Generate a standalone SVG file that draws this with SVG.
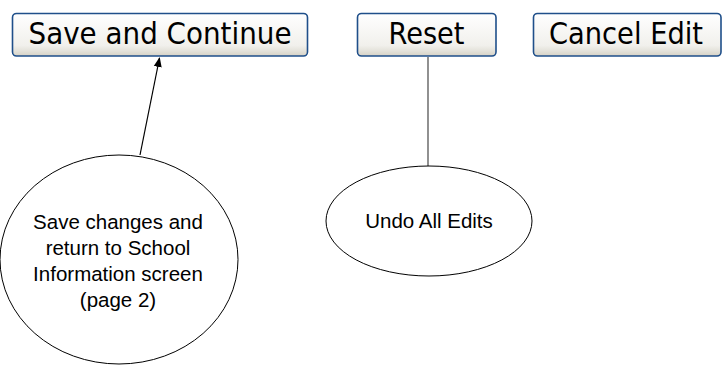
<svg xmlns="http://www.w3.org/2000/svg" width="727" height="370" viewBox="0 0 727 370">
<defs>
<linearGradient id="btn" x1="0" y1="0" x2="0" y2="1">
<stop offset="0" stop-color="#ffffff"/>
<stop offset="0.75" stop-color="#f1f0ec"/>
<stop offset="0.88" stop-color="#e4e2da"/>
<stop offset="1" stop-color="#d6d2c6"/>
</linearGradient>
<marker id="arr" markerWidth="10" markerHeight="10" refX="9" refY="5" orient="auto" markerUnits="userSpaceOnUse">
<path d="M0,1 L10,5 L0,9 Z" fill="#000"/>
</marker>
</defs>
<style>
.btn{fill:url(#btn);stroke:#1f4f8a;stroke-width:1.6}
.bt{font-family:"DejaVu Sans",Verdana,sans-serif;font-size:30px;fill:#000;text-anchor:middle}
.el{fill:#fff;stroke:#000;stroke-width:1}
.et{font-family:"Liberation Sans",Arial,sans-serif;font-size:20.5px;fill:#000;text-anchor:middle}
</style>
<rect width="727" height="370" fill="#fff"/>
<g id="connectors">
<line x1="140" y1="155" x2="159.5" y2="58" stroke="#000" stroke-width="1.2" marker-end="url(#arr)"/>
<line x1="428" y1="57" x2="428" y2="166" stroke="#555" stroke-width="1.3"/>
</g>
<g id="save-and-continue">
<rect class="btn" x="12.5" y="13.5" width="295" height="42.5" rx="4"/>
<text class="bt" x="160" y="44.3" textLength="263" lengthAdjust="spacingAndGlyphs">Save and Continue</text>
</g>
<g id="reset">
<rect class="btn" x="357.5" y="13.5" width="138.5" height="42.5" rx="4"/>
<text class="bt" x="426.5" y="44.3" textLength="76" lengthAdjust="spacingAndGlyphs">Reset</text>
</g>
<g id="cancel-edit">
<rect class="btn" x="533.5" y="13.5" width="187.5" height="42.5" rx="4"/>
<text class="bt" x="626" y="44.3" textLength="154" lengthAdjust="spacingAndGlyphs">Cancel Edit</text>
</g>
<g id="save-note">
<ellipse class="el" cx="119" cy="259.5" rx="119" ry="104.5"/>
<text class="et" x="118" y="229">Save changes and</text>
<text class="et" x="118" y="255">return to School</text>
<text class="et" x="118" y="281">Information screen</text>
<text class="et" x="118" y="307">(page 2)</text>
</g>
<g id="undo-note">
<ellipse class="el" cx="429" cy="221" rx="103" ry="55"/>
<text class="et" x="429" y="227.5">Undo All Edits</text>
</g>
</svg>
